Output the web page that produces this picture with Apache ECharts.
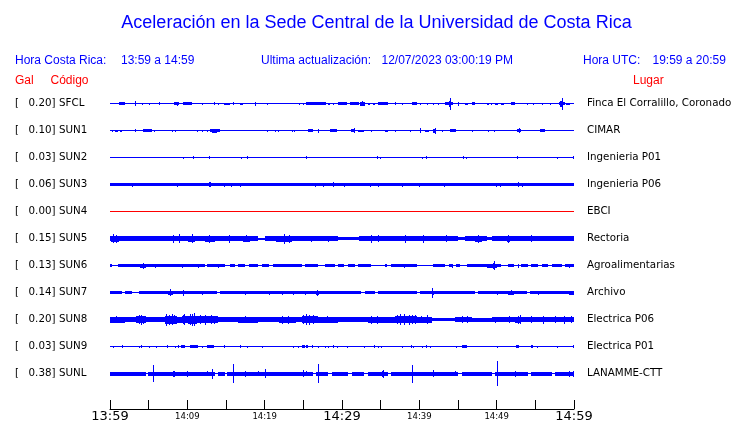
<!DOCTYPE html>
<html><head><meta charset="utf-8">
<script src="https://cdn.jsdelivr.net/npm/echarts@6/dist/echarts.min.js"></script>
<style>html,body{margin:0;padding:0;background:#fff}#c{width:740px;height:423px}</style>
</head><body><div id="c"></div>
<script>
// ---- data ----
const codes = ['SFCL','SUN1','SUN2','SUN3','SUN4','SUN5','SUN6','SUN7','SUN8','SUN9','SUNL'];
const gals = ['0.20','0.10','0.03','0.06','0.00','0.15','0.13','0.14','0.20','0.03','0.38'];
const places = ['Finca El Corralillo, Coronado','CIMAR','Ingenieria P01','Ingenieria P06','EBCI','Rectoria','Agroalimentarias','Archivo','Electrica P06','Electrica P01','LANAMME-CTT'];
const tickLabels = ['13:59','','14:09','','14:19','','14:29','','14:39','','14:49','','14:59'];
// envelope segments per trace: [start minute, end minute, half amplitude]
const sfcl = [[1.2,1.9,1.5],[3.2,3.2,2.7],[4.2,4.2,1],[5.1,5.1,1],[6.3,6.5,1.3],[8.3,8.9,1.3],[8.6,8.6,2],[9.4,10.6,1.5],[11.9,11.9,1],[13.4,13.4,1.3],[14,14,1],[14.7,15.5,1],[15.9,15.9,1.3],[16.8,17.2,1],[18.75,18.75,2],[20.3,20.3,1],[24.5,24.6,1],[24.9,25.1,1],[25.3,27.9,1.5],[28.2,28.5,1],[28.8,29,1],[29.5,30.7,1.3],[31,32.2,1.5],[32.3,33,2],[32.6,32.6,2.7],[33.4,33.6,1],[34,34.3,1],[34.6,36,1.3],[36.8,36.8,1.3],[37.7,37.7,1],[39,39.7,1.3],[40.1,40.1,1],[41,41,1],[41.8,41.8,1],[42.4,42.4,1],[43.3,44.4,1.7],[43.8,44.1,3],[44,44,6],[45,45,2],[45.9,46.3,1],[46.8,47.2,1.3],[48.7,49,1],[49.3,49.4,1],[49.8,50.2,1],[50.6,51,1],[51.9,52.4,1.3],[53.9,53.9,1],[54.7,54.7,1],[55.8,55.8,1],[56.9,56.9,1],[58,58.8,1.7],[58.2,58.6,3],[58.4,58.4,6],[59,59.5,1]];
const sun1 = [[0.2,0.4,1],[0.7,1,1],[1.3,1.5,1],[3.2,3.4,1.3],[4.3,5.4,1.3],[4.6,5,1.7],[5.7,5.7,1],[8,8,1],[8.4,8.4,1],[11.2,11.2,1],[11.9,11.9,1],[12.5,12.5,1],[12.9,14.2,1.7],[13.2,13.8,2.2],[20.3,20.3,1],[21.3,21.3,1],[21.7,21.7,1],[23.5,23.5,1],[23.8,23.8,1],[25.6,26.2,1.7],[26.9,26.9,2.2],[28.4,29.3,1.3],[31.2,31.7,1.7],[31.5,31.5,2.5],[32.1,32.8,1],[33.8,33.8,1],[35.6,36,1],[36.9,36.9,1],[38.8,38.8,1],[40.1,40.1,2.7],[40.7,41.2,1],[41.8,42.2,2],[42,42,3],[42.9,42.9,1],[44,44.8,1.3],[46.8,46.8,1],[48.9,48.9,1],[49.6,49.6,1],[52.6,53.2,1.7],[52.9,52.9,2.5],[55.6,56.2,1.5]];
const sun2 = [[9.4,9.4,1],[10.7,10.7,1.3],[12.8,12.8,1.5],[17,17,1],[17.7,17.7,1.3],[25.3,25.5,1.3],[34.5,34.5,1.3],[34.9,34.9,1],[40.4,40.4,1],[40.8,40.8,1.3],[45.7,45.8,1.5],[46,46,1],[52.6,52.8,1.3],[57.8,57.8,1],[59.9,59.9,1.5]];
const sun3 = [[0,60,1.5],[2.9,2.9,2.2],[8.7,8.7,2.2],[12.8,13,2.5],[14.8,14.8,2],[15.7,15.7,2],[16.8,16.8,2.2],[26.5,26.5,2],[27.6,27.6,2],[28.9,28.9,2.5],[30.3,30.3,2],[33.6,33.6,2],[34.6,34.6,2.2],[37.8,37.8,2],[39.9,39.9,2],[43.2,43.2,2],[49.9,49.9,2],[50.4,50.4,2],[52.8,52.8,2.5],[53.3,53.3,2]];
const sun4 = [];
const sun5 = [[0,19.2,2.3],[19.2,20,1],[20,29.5,2.3],[29.5,32.2,1.7],[32.2,45,2.3],[45,45.9,1.3],[45.9,48.8,2.3],[48.8,49.4,1.5],[49.4,60,2.3],[0.1,1.1,3],[0.4,0.4,4.5],[0.8,0.8,4],[1.9,3.2,2.6],[7.8,9.7,2.7],[8.2,8.2,3.8],[8.9,8.9,4.5],[10.1,11,3],[10.6,10.6,4.5],[12.3,13.6,2.8],[12.8,12.8,3.8],[14.2,16.6,2.6],[15.4,15.4,3.8],[17.2,18.1,2.8],[17.6,17.6,3.5],[20.3,22.6,2.6],[21.5,23.5,3],[22.5,22.5,4.8],[23.1,23.1,3.8],[26,26,3],[28.2,28.2,3],[32.5,35.1,2.7],[33.8,33.8,4],[34.6,34.6,3.5],[36.4,40.7,2.7],[38.2,38.2,4.2],[40.5,40.5,4.2],[42.5,45,2.6],[43.5,43.5,3.5],[47.2,48.1,3],[47.6,47.6,4.2],[51.3,51.7,3],[51.5,51.5,4.2],[52.8,55.4,2.6],[54.5,54.5,3.5]];
const sun6 = [[0,0.3,1.3],[1,3.4,1.3],[3.4,9.3,1.3],[9.5,12.3,1.3],[12.5,14.9,1.3],[15.5,16.2,1.3],[16.5,17.5,1.3],[18,19.2,1.3],[19.6,20.5,1.3],[21.1,24.8,1.3],[25.2,26.9,1.3],[27.8,29.1,1.3],[29.5,30.2,1.3],[30.8,31.7,1.3],[32.1,33.8,1.3],[35.6,35.8,1.3],[36.4,39.7,1.3],[41.8,43.3,1.3],[43.8,44.4,1.3],[44.8,45.3,1.3],[46.1,50.6,1.3],[51.5,52.2,1.3],[53.2,54.1,1.3],[54.5,55.4,1.3],[55.8,56.7,1.3],[57.1,58.4,1.3],[58.8,60,1.3],[3.9,4.6,2],[4.3,4.3,3],[9.3,9.3,2],[11.4,11.4,2],[5.8,5.8,1.8],[14,14,1.8],[38,38,2],[44.2,44.2,1.8],[48.8,50,2],[49.5,49.7,3],[49.6,49.6,4.5],[52.8,52.8,1.8],[59.3,59.3,1.8]];
const sun7 = [[0,1.5,1.3],[1.9,2.8,1.3],[3.7,13.8,1.3],[14.2,32.5,1.3],[33,34.3,1.3],[34.7,39.7,1.3],[40.1,47.2,1.3],[47.6,53.9,1.3],[54.3,60,1.3],[7.5,8.2,2.2],[7.8,7.8,3.5],[9.4,9.6,2.8],[10,13,1.7],[11.9,11.9,2],[17.4,17.4,2],[20.5,20.5,2],[22.2,22.2,2],[23.7,23.7,2],[25.2,25.2,2],[26.7,27,2],[26.8,26.8,2.8],[41.6,41.9,2.2],[41.7,41.7,5],[50,50,2],[51.5,52.2,1.8],[51.8,51.8,2.3],[55.4,55.4,2],[59.3,60,1.8]];
const sun8 = [[0,1.9,2.8],[1.9,3.4,2.5],[3.4,4.7,3.3],[4.7,7.1,2.5],[7.1,8.6,3.8],[8.6,9.3,2.8],[9.3,10.1,3.5],[10.1,11.2,4],[11.2,14,3.3],[14,16.6,2.5],[16.6,19.2,2.8],[19.2,21.8,2.5],[21.8,24.1,3],[24.1,24.8,2.5],[24.8,26.9,3.5],[26.9,29.5,2.8],[29.5,33.4,2.5],[33.4,35.1,3],[35.1,36.9,2.8],[36.9,39.7,3.5],[39.7,41.6,2.8],[41.6,44.6,1.5],[44.6,46.8,2.7],[46.8,49.4,2],[49.4,52.4,2.5],[52.4,53.2,3],[53.2,60,2.7],[0.8,0.8,3.5],[3.8,3.8,4.5],[4,4,5],[4.3,4.3,4],[7.3,7.3,6],[7.6,7.6,5],[8,8,5.5],[8.3,8.3,4.5],[9.5,9.5,4.5],[9.6,9.6,5.5],[10.3,10.3,5.5],[10.6,10.6,6],[10.9,10.9,6.5],[11.6,11.6,4.5],[12.3,12.3,5],[13,13,4.5],[13.5,13.5,4],[17.5,17.5,3.5],[22.3,22.3,4],[23,23,3.8],[25,25,4.5],[25.3,25.3,5.5],[25.7,25.7,5],[26.3,26.3,4.5],[28,28,3.5],[33.8,33.8,4],[34.5,34.5,4],[37.1,37.1,4.5],[37.5,37.5,5.5],[38,38,5.5],[38.6,38.6,5],[39,39,4.5],[39.4,39.4,4.5],[40.2,40.2,3.5],[41,41,4.5],[45.5,45.5,3.5],[46.2,46.2,3.5],[49.8,49.8,3],[51.6,51.6,3.5],[52.8,52.8,4],[53,53,4.5],[54.5,54.5,3.5],[56,56,4],[57.5,57.5,3.5],[58.7,58.7,4],[59.6,59.6,3.5]];
const sun9 = [[0.4,0.4,1],[1.5,1.5,1.3],[3.7,3.7,1],[4,4,1.3],[5.1,5.1,1],[6,6,1],[7.4,7.4,1.3],[8.4,8.4,1],[8.8,8.8,1.3],[9.2,9.7,1.5],[10.3,11.4,1.5],[11.9,11.9,1],[12.5,13.4,1.5],[14.7,14.9,1.3],[16.8,16.8,1.3],[17.7,17.7,1],[19.6,19.6,1],[23.7,23.7,1],[24.3,24.3,1],[24.8,25.2,1.3],[25.4,25.6,1.3],[26.1,26.1,1.3],[26.9,26.9,1],[27.8,27.8,1],[28.2,28.2,1],[28.9,28.9,1.3],[29.3,29.3,1],[30.6,30.6,1],[32.8,32.8,1],[34.1,34.1,1.3],[34.6,34.6,1],[35.1,35.1,1],[37.7,37.7,1],[38.9,38.9,1.3],[39.2,39.2,1],[40.4,40.4,1],[40.9,40.9,1.3],[41.4,41.4,1],[44.8,44.8,1],[45.5,46.1,1.5],[50,50,1],[52.5,52.9,1.5],[54.5,54.7,1.3],[55.2,55.2,1],[57.8,57.8,1],[59.9,59.9,1.3]];
const sunl = [[0,1.9,2],[2,4.7,2],[4.9,13.6,2],[14,14.9,2],[15.1,26.3,2],[26.6,28.2,2],[28.7,30.8,2],[31.3,32.8,2],[33.4,36,2],[36.3,45,2],[45.5,49.4,2],[49.8,54.1,2],[54.5,57.1,2],[57.5,60,2],[5.6,5.6,8.5],[8.2,8.4,3],[9.9,9.9,3.2],[12.5,12.5,2.5],[13.2,13.2,5],[15.9,15.9,9.3],[17.4,17.4,3],[19.2,19.2,2.5],[20,20,4.5],[25,25,3.5],[25.4,25.4,2.5],[26.9,26.9,9.5],[35.2,35.3,3],[35.3,35.3,4],[39.1,39.1,9],[41.8,41.8,3.5],[44.6,44.6,2.5],[50,50,12.3],[52.4,52.4,3],[59.3,59.3,3],[59.9,59.9,3]];
const traces = [sfcl, sun1, sun2, sun3, sun4, sun5, sun6, sun7, sun8, sun9, sunl];

// ---- chart ----
const BLUE = '#0000ff', RED = '#ff0000';
const ROW = 27; // px per row; amplitudes are in px-like display units
const chart = echarts.init(document.getElementById('c'), null, {renderer: 'canvas'});
const series = [];
traces.forEach((segs, r) => {
  const col = segs.length ? BLUE : RED;
  const items = [[0, 60, 0, r]].concat(segs.map(s => [s[0], s[1], s[2], r]));
  series.push({
    type: 'custom', silent: true, animation: false, z: 3,
    data: items,
    renderItem: function (params, api) {
      const s = api.value(0), e = api.value(1), a = api.value(2), rr = api.value(3);
      const p1 = api.coord([s, rr]);
      const p2 = api.coord([e, rr]);
      const rowPix = Math.floor(p1[1]);
      const x1 = Math.round(p1[0]), x2 = Math.round(p2[0]);
      const w = Math.max(1, x2 - x1);
      const hpx = Math.abs(api.coord([s, rr + a / ROW])[1] - p1[1]) * 2;
      const hh = Math.max(1, Math.round(hpx));
      const top = rowPix - Math.floor((hh - 1) / 2);
      return {type: 'rect', shape: {x: x1, y: top, width: w, height: hh}, style: {fill: col}};
    }
  });
});

const graphic = [];
const hdr = {fontFamily: 'Liberation Sans', fontSize: 12, fill: BLUE};
graphic.push({type: 'text', x: 376.5, y: 23, style: {text: 'Aceleración en la Sede Central de la Universidad de Costa Rica', fontFamily: 'Liberation Sans', fontSize: 18, fill: BLUE, align: 'center', verticalAlign: 'middle'}});
[['Hora Costa Rica:', 15], ['13:59 a 14:59', 121], ['Ultima actualización:', 261], ['12/07/2023 03:00:19 PM', 381.5], ['Hora UTC:', 583], ['19:59 a 20:59', 652.5]].forEach(t => {
  graphic.push({type: 'text', x: t[1], y: 61, style: Object.assign({text: t[0], align: 'left', verticalAlign: 'middle'}, hdr)});
});
[['Gal', 15], ['Código', 50.5], ['Lugar', 633]].forEach(t => {
  graphic.push({type: 'text', x: t[1], y: 81, style: {text: t[0], fontFamily: 'Liberation Sans', fontSize: 12, fill: RED, align: 'left', verticalAlign: 'middle'}});
});
const lab = {fontFamily: 'DejaVu Sans', fontSize: 10.3, fill: '#000', verticalAlign: 'middle'};
codes.forEach((c, i) => {
  const y = 103.5 + ROW * i;
  graphic.push({type: 'text', x: 15, y: y, style: Object.assign({text: '[', align: 'left'}, lab)});
  graphic.push({type: 'text', x: 55.5, y: y, style: Object.assign({text: gals[i] + ']', align: 'right'}, lab)});
  graphic.push({type: 'text', x: 59, y: y, style: Object.assign({text: c, align: 'left'}, lab)});
  graphic.push({type: 'text', x: 587, y: y, style: Object.assign({text: places[i], align: 'left'}, lab)});
});

chart.setOption({
  animation: false,
  grid: {left: 110, right: 166, top: 76.5, bottom: 14},
  xAxis: {
    type: 'value', min: 0, max: 60, interval: 5, position: 'bottom',
    axisLine: {show: true, onZero: false, lineStyle: {color: '#000', width: 1}},
    axisTick: {show: true, inside: true, length: 9, lineStyle: {color: '#000'}},
    splitLine: {show: false},
    axisLabel: {
      margin: 1, color: '#000', fontFamily: 'DejaVu Sans',
      formatter: function (v) {
        const i = Math.round(v / 5);
        const t = tickLabels[i] || '';
        if (!t) return '';
        return (i % 6 === 0) ? '{b|' + t + '}' : '{s|' + t + '}';
      },
      rich: {
        b: {fontSize: 13, fontFamily: 'DejaVu Sans', color: '#000'},
        s: {fontSize: 8.5, fontFamily: 'DejaVu Sans', color: '#000', padding: [2, 0, 0, 0]}
      }
    }
  },
  yAxis: {type: 'value', inverse: true, min: -1, max: -1 + 332.5 / ROW, show: false},
  series: series,
  graphic: graphic
});
</script></body></html>
